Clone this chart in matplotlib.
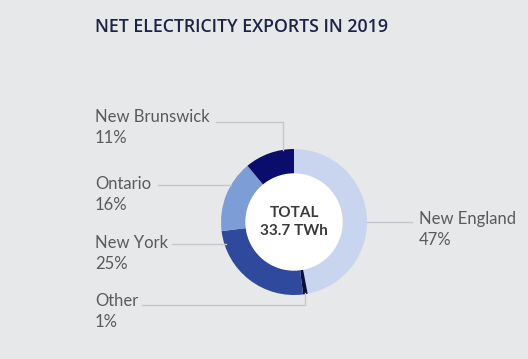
import matplotlib.pyplot as plt

# data, clockwise from 12 o'clock
regions = ['New England', 'Other', 'New York', 'Ontario', 'New Brunswick']
shares = [47, 1, 25, 16, 11]
colors = ['#c9d4ee', '#0d0f3a', '#2f4a9d', '#7d9dd6', '#0b0d6c']
total_label = 'TOTAL\n33.7 TWh'
title = 'NET ELECTRICITY EXPORTS IN 2019'

W, H = 528, 359
bg = '#e7e8ea'

fig = plt.figure(figsize=(W / 100, H / 100), dpi=100, facecolor=bg)
ax = fig.add_axes([0, 0, 1, 1])
ax.set_facecolor(bg)

def py(y):
    # image pixel row -> data y
    return H - y

cx, cy = 294, 222
ax.pie(shares, colors=colors, startangle=90, counterclock=False,
       center=(cx, py(cy)), radius=73, frame=True,
       wedgeprops=dict(width=25, edgecolor='none'))
ax.set_xlim(0, W)
ax.set_ylim(0, H)
ax.set_aspect('equal')
ax.axis('off')

# white centre
ax.add_patch(plt.Circle((cx, py(cy)), 48, color='white', zorder=3))
ax.text(cx, py(cy), total_label, ha='center', va='center', fontsize=11,
        fontweight='bold', color='#3a3a3a', family='Lato', linespacing=1.35, zorder=4)

ax.text(95, py(27), title, ha='left', va='center', fontsize=12.8,
        fontweight='semibold', color='#1b2444', family='Open Sans')

# labels and leader lines
line_c = '#c6c7c9'
labels = [
    ('New Brunswick', '11%', 95, 117, [(216, 122), (283, 122), (283, 150)]),
    ('Ontario', '16%', 95, 184, [(158, 185), (231, 185)]),
    ('New York', '25%', 95, 243, [(172, 244), (226, 244)]),
    ('Other', '1%', 95, 301, [(142, 305), (305, 305), (305, 293)]),
    ('New England', '47%', 419, 219, [(367, 222), (412, 222)]),
]
for name, pct, x, y, pts in labels:
    ax.text(x, py(y), name, ha='left', va='center', fontsize=12,
            color='#5a5a5a', family='Lato')
    ax.text(x, py(y + 21), pct, ha='left', va='center', fontsize=12,
            color='#5a5a5a', family='Lato')
    xs = [p[0] for p in pts]
    ys = [py(p[1]) for p in pts]
    ax.plot(xs, ys, color=line_c, lw=1, zorder=1)

fig.savefig('out.png', dpi=100, facecolor=bg)
